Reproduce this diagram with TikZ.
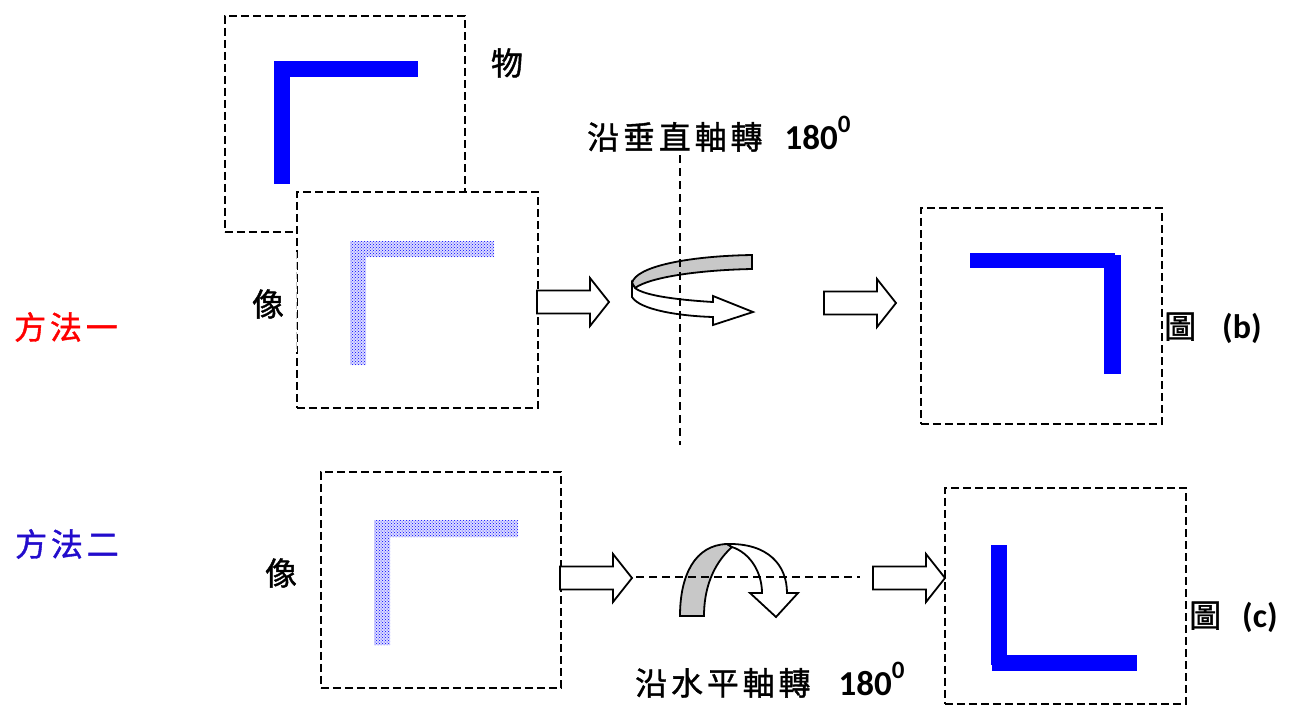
\documentclass[tikz,border=0pt]{standalone}
\usepackage{fontspec}
\usetikzlibrary{patterns}
\newfontfamily\cjk[LetterSpace=12,FakeBold=1.2]{Noto Sans CJK TC}
\newfontfamily\calib{Carlito}
\definecolor{methodtwo}{RGB}{34,12,204}
\definecolor{ribbon}{RGB}{200,200,200}
\newcommand{\degnum}{{\calib\bfseries\fontsize{35}{40}\selectfont 180\raisebox{17pt}{\fontsize{25}{25}\selectfont 0}}}
\begin{document}
\begin{tikzpicture}[x=1pt,y=-1pt,
  frame/.style={draw=black, line width=1.8pt, dash pattern=on 8pt off 4pt, inner sep=0pt, anchor=north west},
  bar/.style={fill=blue},
  dotbar/.style={pattern=crosshatch dots, pattern color=blue},
  dotbg/.style={fill=blue!14},
  lbl/.style={inner sep=0pt, font=\cjk\fontsize{32}{36}\selectfont},
  outl/.style={draw=black, line width=1.8pt, line join=miter},
  axis/.style={draw=black, line width=1.7pt, dash pattern=on 8pt off 5pt},
  harrow/.pic={\draw[outl, fill=white] (0,-11.5) -- (53,-11.5) -- (53,-24) -- (72,0) -- (53,24) -- (53,11.5) -- (0,11.5) -- cycle;}
]
\useasboundingbox (0,0) rectangle (1293,705);
% boxes
\node[frame, minimum width=240pt, minimum height=216pt] (obj) at (224,15) {};
\fill[bar] (274,61) rectangle (290,184);
\fill[bar] (274,61) rectangle (418,77);
\node[frame, fill=white, minimum width=241pt, minimum height=216pt] (img1) at (296,191) {};
\draw[white, line width=2.6pt] (296,252) -- (296,352);
\draw[black!25, line width=0.8pt, dash pattern=on 7pt off 3pt] (296,252) -- (296,352);
\fill[dotbg] (350,241) -- (494,241) -- (494,257) -- (366,257) -- (366,365) -- (350,365) -- cycle;
\fill[dotbar] (350,241) -- (494,241) -- (494,257) -- (366,257) -- (366,365) -- (350,365) -- cycle;

\node[frame, minimum width=241pt, minimum height=216pt] (boxb) at (920,207) {};
\fill[bar] (970,253) rectangle (1115,268);
\fill[bar] (1104,255) rectangle (1121,374);

\node[frame, minimum width=240pt, minimum height=216pt] (img2) at (320,471) {};
\fill[dotbg] (374,520) -- (518,520) -- (518,537) -- (390,537) -- (390,645) -- (374,645) -- cycle;
\fill[dotbar] (374,520) -- (518,520) -- (518,537) -- (390,537) -- (390,645) -- (374,645) -- cycle;

\node[frame, minimum width=241pt, minimum height=216pt] (boxc) at (944,487) {};
\fill[bar] (991,545) rectangle (1007,665);
\fill[bar] (992,655) rectangle (1137,671);

% hollow arrows
\pic (a1) at (537,302) {harrow};
\pic (a2) at (824,303) {harrow};
\pic (a3) at (560,578) {harrow};
\pic (a4) at (873,578) {harrow};

% rotation about vertical axis
\draw[outl, fill=ribbon] (752,255) .. controls (690,256) and (636,266) .. (632,283) -- (635,288) .. controls (650,277) and (700,270) .. (752,269) -- cycle;
\draw[outl, fill=white] (632,283) -- (632,297) .. controls (640,310) and (680,316) .. (713,317) -- (713,325) -- (753,312) -- (713,296) -- (713,302) .. controls (680,300) and (645,296) .. (635,288) -- cycle;

% rotation about horizontal axis
\draw[outl, fill=ribbon] (680,616) .. controls (680,575) and (695,545) .. (727,544) -- (732,547) .. controls (712,565) and (704,590) .. (704,616) -- cycle;
\draw[outl, fill=white] (727,544) .. controls (768,543) and (787,565) .. (787,593) -- (798,593) -- (776,617) -- (750,593) -- (762,593) .. controls (762,572) and (750,553) .. (732,547) -- cycle;

% axes
\coordinate (vtop) at (680,155);
\coordinate (vbot) at (680,445);
\coordinate (hl) at (636,577);
\coordinate (hr) at (860,577);
\draw[axis] (vtop) -- (vbot);
\draw[axis] (hl) -- (hr);

% labels
\node[lbl] (wu) at (507,63) {物};
\node[lbl] (xiang1) at (268,304) {像};
\node[lbl] (xiang2) at (281,573) {像};
\node[lbl, text=red] (m1) at (66,327) {方法一};
\node[lbl, text=methodtwo] (m2) at (67,544) {方法二};
\node[lbl, anchor=west] (capb) at (1164,328) {圖\hspace{26pt}{\calib\bfseries\fontsize{34}{40}\selectfont (b)}};
\node[lbl, anchor=west] (capc) at (1189,617) {圖\hspace{21pt}{\calib\bfseries\fontsize{34}{40}\selectfont (c)}};
\node[lbl, anchor=base west] (vtext) at (587,149) {沿垂直軸轉\hspace{22pt}\degnum};
\node[lbl, anchor=base west] (htext) at (635,695) {沿水平軸轉\hspace{28pt}\degnum};
\end{tikzpicture}
\end{document}
